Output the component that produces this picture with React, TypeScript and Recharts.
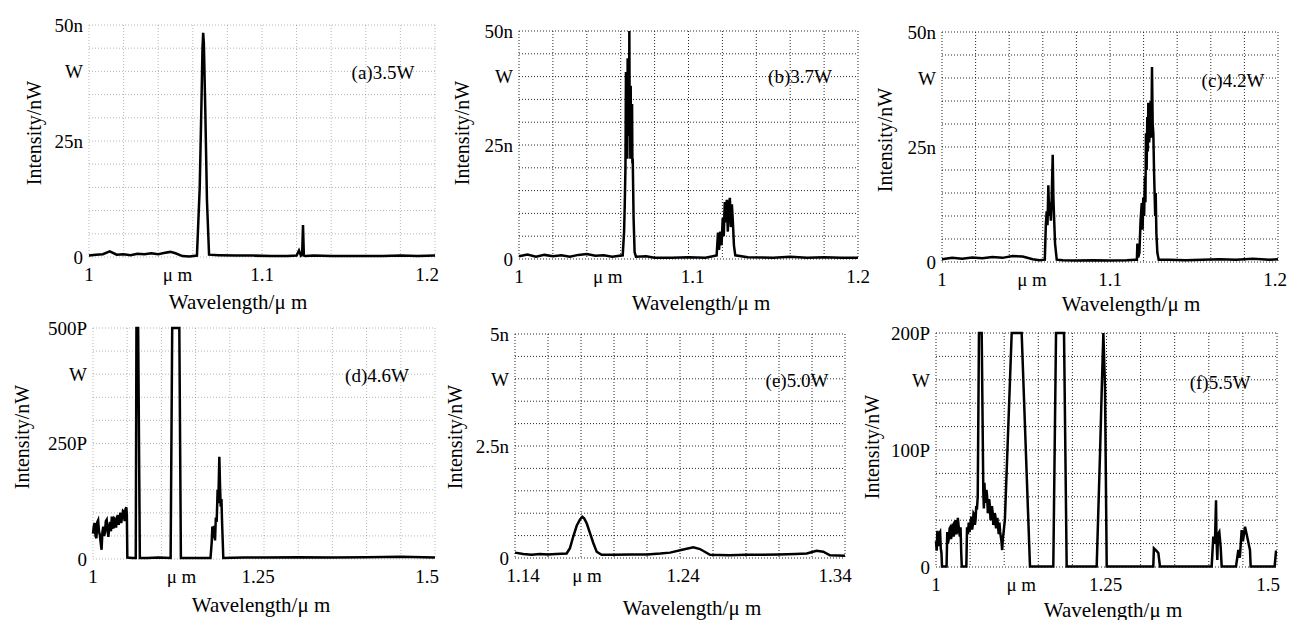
import { LineChart, Line, XAxis, YAxis, CartesianGrid } from 'recharts';

const FONT = '"Liberation Serif", "Times New Roman", serif';

// (a) 3.5 W pump
const aWave = [
  1.000, 1.004, 1.008, 1.012, 1.016, 1.020, 1.024, 1.028, 1.032, 1.036,
  1.040, 1.044, 1.047, 1.050, 1.054, 1.058,
  1.0624, 1.0640, 1.0650, 1.0656, 1.0660, 1.0664, 1.0672, 1.0682, 1.0694,
  1.075, 1.085, 1.095, 1.105, 1.115, 1.120,
  1.1214, 1.1225, 1.1232, 1.1237, 1.1242, 1.1250,
  1.130, 1.140, 1.150, 1.160, 1.170, 1.180, 1.190, 1.200,
];
const aIntensity = [
  0.3, 0.5, 0.6, 1.2, 0.5, 0.6, 0.4, 0.7, 0.6, 0.8,
  0.6, 0.9, 1.1, 0.8, 0.2, 0.1,
  0.3, 15, 33, 45, 48.3, 46, 32, 12, 0.5,
  0.4, 0.3, 0.3, 0.2, 0.2, 0.3,
  1.4, 0.3, 0.5, 6.9, 0.3, 0.2,
  0.3, 0.2, 0.2, 0.2, 0.2, 0.3, 0.2, 0.3,
];

// (b) 3.7 W
const bWave = [
  1.000, 1.005, 1.010, 1.015, 1.020, 1.025, 1.030, 1.035, 1.040, 1.045, 1.050, 1.055,
  1.0612, 1.0620, 1.0624, 1.0628, 1.0631, 1.0634, 1.0636, 1.0639, 1.0641, 1.0644,
  1.0646, 1.0649, 1.0651, 1.0653, 1.0655, 1.0657, 1.0659, 1.0661, 1.0663, 1.0665,
  1.0667, 1.0669, 1.0671, 1.0676, 1.0682, 1.0690,
  1.075, 1.080, 1.090, 1.100, 1.110,
  1.1166, 1.1174, 1.1180, 1.1188, 1.1195, 1.1202, 1.1208, 1.1214, 1.1220,
  1.1226, 1.1232, 1.1238, 1.1244, 1.1250, 1.1256, 1.1262, 1.1268, 1.1276,
  1.135, 1.150, 1.160, 1.170, 1.180, 1.190, 1.200,
];
const bIntensity = [
  0.6, 1.0, 0.5, 0.9, 0.6, 0.8, 0.5, 0.9, 1.1, 0.7, 0.8, 0.5,
  0.8, 6, 12, 20, 41, 26, 30, 22, 44, 28,
  36, 27, 50, 30, 32, 22, 38, 24, 25, 33,
  34, 21, 22, 9, 1.5, 0.5,
  0.6, 0.3, 0.3, 0.4, 0.3,
  0.8, 5.8, 2, 6, 3, 9, 5, 12.5, 8,
  13, 6, 12, 13.4, 7, 12, 8, 3, 0.8,
  0.4, 0.3, 0.5, 0.3, 0.4, 0.3, 0.3,
];

// (c) 4.2 W
const cWave = [
  1.000, 1.006, 1.012, 1.018, 1.024, 1.030, 1.036, 1.042, 1.048, 1.054, 1.058,
  1.0612, 1.0618, 1.0623, 1.0628, 1.0633, 1.0638, 1.0643, 1.0648, 1.0653, 1.0659,
  1.0663, 1.0667, 1.0673, 1.0683,
  1.072, 1.080, 1.090, 1.100, 1.110, 1.115,
  1.1160, 1.1163, 1.1168, 1.1175, 1.1182, 1.1189, 1.1194, 1.1198, 1.1203, 1.1208,
  1.1211, 1.1214, 1.1218, 1.1222, 1.1225, 1.1228, 1.1233, 1.1238, 1.1242, 1.1246,
  1.1250, 1.1254, 1.1258, 1.1262, 1.1265, 1.1269, 1.1272, 1.1276, 1.1282, 1.1290,
  1.135, 1.145, 1.155, 1.165, 1.175, 1.185, 1.195, 1.200,
];
const cIntensity = [
  0.6, 0.9, 0.7, 1.0, 0.8, 1.1, 0.9, 1.3, 1.2, 0.6, 0.4,
  0.5, 8, 11, 8, 16.7, 10, 13, 9, 14, 23.3,
  14, 9.8, 4, 0.5,
  0.4, 0.3, 0.4, 0.3, 0.4, 0.5,
  0.5, 4, 1, 2, 9, 12.8, 7, 14, 10, 18.5,
  13, 28, 20, 31.5, 24, 34.6, 26, 29, 35, 27,
  42.4, 30, 28, 20, 15.7, 10, 15, 6.3, 2, 0.5,
  0.5, 0.4, 0.5, 0.6, 0.5, 0.7, 0.5, 0.6,
];

// (d) 4.6 W (pW scale)
const dWave = [
  1.00000, 1.00125, 1.00250, 1.00375, 1.00500, 1.00625, 1.00750, 1.00875, 1.01000, 1.01125,
  1.01250, 1.01375, 1.01500, 1.01625, 1.01750, 1.01875, 1.02000, 1.02125, 1.02250, 1.02375,
  1.02500, 1.02625, 1.02750, 1.02875, 1.03000, 1.03125, 1.03250, 1.03375, 1.03500, 1.03625,
  1.03750, 1.03875, 1.04000, 1.04125, 1.04250, 1.04375, 1.04500, 1.04625, 1.04750, 1.04875,
  1.0495, 1.0502,
  1.058, 1.0625, 1.0635, 1.0660, 1.0685, 1.080, 1.095,
  1.1135, 1.1158, 1.1262, 1.1285, 1.150,
  1.1718, 1.1735, 1.1745, 1.1759, 1.1770, 1.1784, 1.1796, 1.1808,
  1.1822, 1.1832, 1.1847, 1.1857, 1.1867, 1.1878, 1.1886, 1.1905,
  1.220, 1.250, 1.300, 1.350, 1.400, 1.450, 1.500,
];
const dIntensity = [
  55, 72, 78, 50, 45, 80, 84, 60, 52, 35,
  20, 58, 70, 50, 58, 82, 85, 62, 48, 70,
  80, 60, 92, 72, 66, 88, 86, 68, 90, 95,
  74, 88, 100, 78, 90, 104, 102, 82, 108, 112,
  96, 3,
  2, 2, 500, 500, 2, 2, 3,
  2, 500, 500, 2, 2,
  2, 35, 70, 45, 72, 40, 90, 80,
  150, 121, 221, 160, 113, 130, 84, 2,
  3, 3, 4, 3, 4, 5, 3,
];

// (e) 5.0 W
const eWave = [
  1.140, 1.145, 1.150, 1.155, 1.160, 1.165,
  1.1713, 1.1733, 1.1753, 1.1774, 1.1794, 1.1808, 1.1820, 1.1835, 1.1855, 1.1875, 1.1895, 1.1925,
  1.200, 1.210, 1.220, 1.228,
  1.234, 1.242, 1.2481, 1.2521, 1.2582,
  1.270, 1.280, 1.290, 1.300, 1.310,
  1.3168, 1.3228, 1.3268, 1.3309, 1.340,
];
const eIntensity = [
  0.12, 0.09, 0.07, 0.09, 0.08, 0.09,
  0.1, 0.22, 0.48, 0.72, 0.86, 0.92, 0.88, 0.77, 0.55, 0.33, 0.14, 0.07,
  0.07, 0.08, 0.08, 0.1,
  0.12, 0.19, 0.24, 0.2, 0.07,
  0.06, 0.07, 0.07, 0.08, 0.09,
  0.1, 0.16, 0.14, 0.06, 0.05,
];

// (f) 5.5 W (pW scale)
const fWave = [
  1.000, 1.001, 1.002, 1.003, 1.004, 1.005, 1.006, 1.007, 1.008, 1.0088,
  1.0155, 1.0165, 1.0175, 1.019, 1.020, 1.021, 1.022, 1.023, 1.024, 1.025,
  1.026, 1.027, 1.028, 1.029, 1.030, 1.031, 1.032, 1.033, 1.034, 1.035,
  1.036, 1.037, 1.0378, 1.0445,
  1.0455, 1.0468, 1.048, 1.049, 1.050, 1.051, 1.052, 1.053, 1.054, 1.055,
  1.056, 1.057, 1.058, 1.059, 1.060, 1.0612, 1.063, 1.067,
  1.0694, 1.0702, 1.071, 1.072, 1.073, 1.074, 1.075, 1.076, 1.077, 1.078,
  1.079, 1.080, 1.081, 1.082, 1.083, 1.084, 1.085, 1.086, 1.087, 1.088,
  1.089, 1.090, 1.091, 1.092, 1.093, 1.094, 1.095, 1.096, 1.097, 1.098,
  1.099, 1.100, 1.101, 1.111, 1.1256, 1.1378,
  1.155, 1.172, 1.176, 1.1877, 1.1916, 1.215,
  1.2356, 1.2405, 1.2429, 1.2454, 1.2478, 1.2503, 1.285,
  1.3186, 1.3195, 1.323, 1.326, 1.3284, 1.365,
  1.4042, 1.4066, 1.4090, 1.4106, 1.4112, 1.4125, 1.4135, 1.4154, 1.4174, 1.4189,
  1.4300, 1.4399, 1.4433, 1.4455, 1.4482, 1.4500, 1.4531, 1.4555, 1.4604, 1.4614,
  1.480, 1.4965, 1.4985, 1.500,
];
const fIntensity = [
  22, 14, 31, 20, 18, 29, 30, 16, 12, 0.5,
  0.5, 30, 20, 25, 33, 34, 24, 27, 35, 36,
  26, 30, 38, 40, 28, 32, 42, 36, 30, 26,
  34, 12, 0.5, 0.5,
  34, 28, 38, 30, 33, 40, 43, 32, 36, 46,
  45, 36, 40, 52, 49, 60, 200, 200,
  63, 50, 72, 58, 55, 66, 60, 46, 48, 58,
  52, 40, 43, 52, 47, 36, 38, 46, 44, 33,
  40, 42, 34, 28, 38, 30, 26, 22, 14.5, 24,
  29, 35, 40, 200, 200, 0.5,
  0.5, 0.5, 200, 200, 0.5, 0.5,
  0.5, 97, 149, 200, 154, 0.5, 0.5,
  0.5, 16, 14, 12, 0.5, 0.5,
  0.5, 26, 20, 57, 25, 6, 28, 30, 17, 0.5,
  0.5, 0.5, 14.5, 8, 31.6, 22, 34.4, 28, 14.5, 0.5,
  0.5, 0.5, 13, 13,
];

// axis ticks and their printed labels
const shortTicks = [1, 1.05, 1.1, 1.2];
const shortTickLabels = ['1', 'μ m', '1.1', '1.2'];
const wideTicks = [1, 1.125, 1.25, 1.5];
const wideTickLabels = ['1', 'μ m', '1.25', '1.5'];
const eTicks = [1.14, 1.18, 1.24, 1.34];
const eTickLabels = ['1.14', 'μ m', '1.24', '1.34'];

const nwTicks = [0, 25, 40, 50];
const nwTickLabels = ['0', '25n', 'W', '50n'];
const dYTicks = [0, 250, 400, 500];
const dYTickLabels = ['0', '250P', 'W', '500P'];
const eYTicks = [0, 2.5, 4, 5];
const eYTickLabels = ['0', '2.5n', 'W', '5n'];
const fYTicks = [0, 100, 160, 200];
const fYTickLabels = ['0', '100P', 'W', '200P'];

interface PanelDef {
  tag: string;
  wave: number[];
  value: number[];
  xDomain: [number, number];
  xTicks: number[];
  xLabels: string[];
  yDomain: [number, number];
  yTicks: number[];
  yLabels: string[];
  plot: [number, number, number, number]; // page px: left, top, right, bottom
  tagAt: [number, number];
  xTitleAt: [number, number];
  yTitleAt: [number, number];
  gridOpacity: number;
  tickShift: number[];
}

const PANELS: PanelDef[] = [
  {
    tag: '(a)3.5W', wave: aWave, value: aIntensity,
    xDomain: [1, 1.2], xTicks: shortTicks, xLabels: shortTickLabels,
    yDomain: [0, 50], yTicks: nwTicks, yLabels: nwTickLabels,
    plot: [89, 25, 435, 257], tagAt: [383, 72], xTitleAt: [238, 302], yTitleAt: [34, 133],
    gridOpacity: 0.3, tickShift: [0, 2, 0, -8],
  },
  {
    tag: '(b)3.7W', wave: bWave, value: bIntensity,
    xDomain: [1, 1.2], xTicks: shortTicks, xLabels: shortTickLabels,
    yDomain: [0, 50], yTicks: nwTicks, yLabels: nwTickLabels,
    plot: [519, 31, 858, 259], tagAt: [800, 76], xTitleAt: [701, 303], yTitleAt: [462, 133],
    gridOpacity: 0.9, tickShift: [0, 4, 4, 0],
  },
  {
    tag: '(c)4.2W', wave: cWave, value: cIntensity,
    xDomain: [1, 1.2], xTicks: shortTicks, xLabels: shortTickLabels,
    yDomain: [0, 50], yTicks: nwTicks, yLabels: nwTickLabels,
    plot: [942, 32, 1278, 262], tagAt: [1233, 80], xTitleAt: [1131, 304], yTitleAt: [885, 140],
    gridOpacity: 0.9, tickShift: [0, 6, 0, -3],
  },
  {
    tag: '(d)4.6W', wave: dWave, value: dIntensity,
    xDomain: [1, 1.5], xTicks: wideTicks, xLabels: wideTickLabels,
    yDomain: [0, 500], yTicks: dYTicks, yLabels: dYTickLabels,
    plot: [93, 328, 435, 559], tagAt: [377, 375], xTitleAt: [261, 605], yTitleAt: [22, 437],
    gridOpacity: 0.3, tickShift: [0, 3, -6, -8],
  },
  {
    tag: '(e)5.0W', wave: eWave, value: eIntensity,
    xDomain: [1.14, 1.34], xTicks: eTicks, xLabels: eTickLabels,
    yDomain: [0, 5], yTicks: eYTicks, yLabels: eYTickLabels,
    plot: [515, 334, 845, 558], tagAt: [797, 380], xTitleAt: [692, 608], yTitleAt: [455, 437],
    gridOpacity: 0.9, tickShift: [8, 6, 3, -10],
  },
  {
    tag: '(f)5.5W', wave: fWave, value: fIntensity,
    xDomain: [1, 1.5], xTicks: wideTicks, xLabels: wideTickLabels,
    yDomain: [0, 200], yTicks: fYTicks, yLabels: fYTickLabels,
    plot: [936, 333, 1277, 567], tagAt: [1220, 382], xTitleAt: [1113, 610], yTitleAt: [872, 447],
    gridOpacity: 0.9, tickShift: [0, 0, -1, -9],
  },
];

const XTick = (props: any) => {
  const { x, y, index, labels, shift } = props;
  return (
    <text x={x + (shift[index] ?? 0)} y={y} dy="0.71em" textAnchor="middle"
      fontSize={19} fontFamily={FONT} fill="#000">
      {labels[index]}
    </text>
  );
};

const YTick = (props: any) => {
  const { x, y, index, labels } = props;
  return (
    <text x={x} y={y} dy="0.355em" textAnchor="end" fontSize={19} fontFamily={FONT} fill="#000">
      {labels[index]}
    </text>
  );
};

const YW = 70;
const TOP = 14;
const RIGHT = 18;
const XH = 36;

function Panel({ p }: { p: PanelDef }) {
  const [x0, y0, x1, y1] = p.plot;
  const pw = x1 - x0;
  const ph = y1 - y0;
  const rows = p.wave.map((w, i) => ({ wl: w, v: p.value[i] }));
  // 10 x 10 dotted division grid of the instrument screen
  const vPts = Array.from({ length: 11 }, (_, i) => YW + (pw * i) / 10);
  const hPts = Array.from({ length: 11 }, (_, i) => TOP + (ph * i) / 10);

  const text = { position: 'absolute' as const, fontFamily: FONT, color: '#000', whiteSpace: 'nowrap' as const, lineHeight: 1 };

  return (
    <>
      <div style={{ position: 'absolute', left: x0 - YW, top: y0 - TOP }}>
        <LineChart width={YW + pw + RIGHT} height={TOP + ph + XH} data={rows}
          margin={{ top: TOP, right: RIGHT, bottom: 0, left: 0 }}>
          <CartesianGrid horizontalPoints={hPts} verticalPoints={vPts}
            stroke="#111" strokeDasharray="1 2" strokeOpacity={p.gridOpacity} />
          <XAxis dataKey="wl" type="number" domain={p.xDomain} ticks={p.xTicks} interval={0}
            axisLine={false} tickLine={false} tickSize={0} tickMargin={11} height={XH}
            tick={<XTick labels={p.xLabels} shift={p.tickShift} />} />
          <YAxis type="number" domain={p.yDomain} ticks={p.yTicks} interval={0} width={YW}
            axisLine={false} tickLine={false} tickSize={0} tickMargin={6}
            tick={<YTick labels={p.yLabels} />} />
          <Line dataKey="v" type="linear" stroke="#000" strokeWidth={2.5} dot={false}
            isAnimationActive={false} />
        </LineChart>
      </div>
      <div style={{ ...text, left: p.tagAt[0], top: p.tagAt[1], fontSize: 19, transform: 'translate(-50%, -50%)' }}>
        {p.tag}
      </div>
      <div style={{ ...text, left: p.xTitleAt[0], top: p.xTitleAt[1], fontSize: 21, transform: 'translate(-50%, -50%)' }}>
        Wavelength/μ m
      </div>
      <div style={{ ...text, left: p.yTitleAt[0], top: p.yTitleAt[1], fontSize: 20, transform: 'translate(-50%, -50%) rotate(-90deg)' }}>
        Intensity/nW
      </div>
    </>
  );
}

export default function App() {
  return (
    <div style={{ position: 'absolute', left: 0, top: 0, width: 1295, height: 620, background: '#fff', overflow: 'hidden' }}>
      {PANELS.map(p => <Panel key={p.tag} p={p} />)}
    </div>
  );
}
